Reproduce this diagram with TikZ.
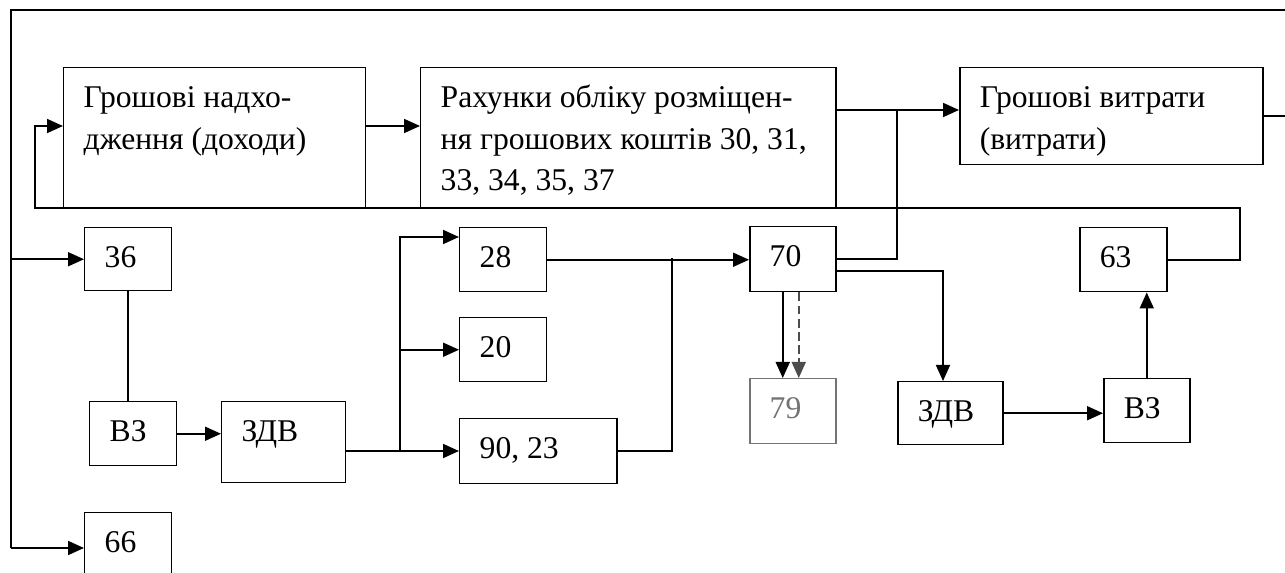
\documentclass[tikz,border=0pt]{standalone}
\usepackage{fontspec}
\setmainfont{Liberation Serif}
\usetikzlibrary{arrows.meta}

\begin{document}
\begin{tikzpicture}[x=0.02cm, y=-0.02cm,
  every node/.style={font=\fontsize{18}{23.5}\selectfont},
  acct/.style 2 args={draw, line width=0.85pt, anchor=north west, inner xsep=0.2cm, inner ysep=0pt,
    align=left, text width={#1*0.02cm-0.4cm}, text height=0.8cm, text depth={#2*0.02cm-0.8cm},
    execute at begin node={\leftskip=0.2cm\spaceskip=0pt\xspaceskip=0pt}},
  link/.style={line width=1pt},
  arr/.style={link, -{Triangle[length=0.32cm,width=0.28cm]}}]
\useasboundingbox (0,0) rectangle (1285,573);
% Top row
\node[acct={302}{141}] (inc) at (63,67) {Грошові надхо-\\дження (доходи)};
\node[acct={415}{141}] (acc) at (420,67) {Рахунки обліку розміщен-\\ня грошових коштів 30, 31,\\33, 34, 35, 37};
\node[acct={303}{97}] (exp) at (959,67) {Грошові витрати\\(витрати)};
% Accounts
\node[acct={87}{63}] (b36) at (84,227) {36};
\node[acct={87}{64}] (vz1) at (89,401) {ВЗ};
\node[acct={124}{81}] (zdv1) at (221,401) {ЗДВ};
\node[acct={87}{64}] (b28) at (459,227) {28};
\node[acct={87}{64}] (b20) at (459,317) {20};
\node[acct={157}{65}] (b9023) at (459,418) {90, 23};
\node[acct={86}{65}] (b70) at (749,226) {70};
\node[acct={86}{65}, draw=black!55, text=black!55] (b79) at (749,378) {79};
\node[acct={105}{63}] (zdv2) at (897,381) {ЗДВ};
\node[acct={86}{64}] (vz2) at (1103,378) {ВЗ};
\node[acct={87}{64}] (b63) at (1079,227) {63};
\node[acct={87}{63}] (b66) at (84,512) {66};
% Junctions
\coordinate (lo) at (11,548);
\coordinate (ro) at (1290,10);
\coordinate (lp) at (35,126);
\coordinate (rc) at (1240,208);
\coordinate (j1) at (400,451);
\coordinate (j2) at (672,258);
\coordinate (j3) at (897,110);
\coordinate (j4) at (943,271);
\coordinate (j5) at (400,237);
% Outer loop
\draw[link] (exp.east) -| (ro) -| (lo);
\draw[arr] (lo) -- (lo -| b66.west);
\draw[arr] (lo |- b36.west) -- (b36.west);
% Return to receipts
\draw[arr] (b63.east) -| (rc) -| (lp) -- (lp -| inc.west);
\draw[arr] (inc.east |- lp) -- (lp -| acc.west);
\draw[arr] (acc.east |- j3) -- (j3 -| exp.west);
% Lower flows
\draw[link] (b36.south) -- (b36.south |- vz1.north);
\draw[arr] (vz1.east) -- (vz1.east -| zdv1.west);
\draw[arr] (zdv1.east |- j1) -- (j1) -- (j1 -| b9023.west);
\draw[arr] (j1) -- (j5) -- (j5 -| b28.west);
\draw[arr] (j1 |- b20.west) -- (b20.west);
\draw[arr] (b28.east) -- (b28.east -| b70.west);
\draw[link] (b9023.east) -| (j2);
\draw[link] (b70.east) -| (j3);
\draw[arr] (b70.east |- j4) -| (j4 |- zdv2.north);
\draw[arr] ([xshift=-0.2cm]b70.south) -- ([xshift=-0.2cm]b70.south |- b79.north);
\draw[arr, black!70, dash pattern=on 5pt off 2.5pt] ([xshift=0.12cm]b70.south) -- ([xshift=0.12cm]b70.south |- b79.north);
\draw[arr] (zdv2.east) -- (zdv2.east -| vz2.west);
\draw[arr] (vz2.north) -- (vz2.north |- b63.south);
\end{tikzpicture}
\end{document}
